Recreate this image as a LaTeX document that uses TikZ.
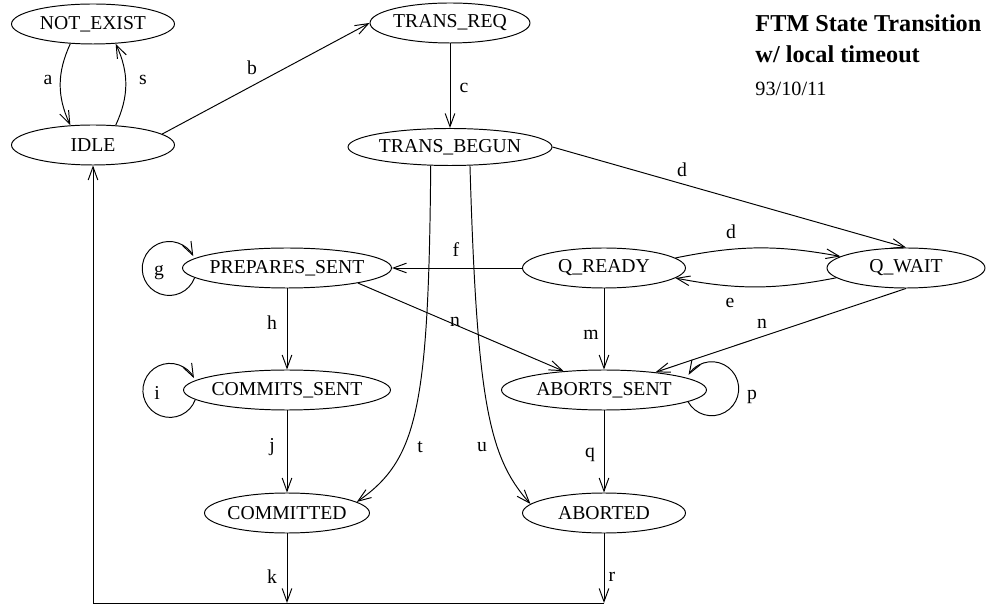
\documentclass[tikz,border=0pt]{standalone}
\usepackage{fontspec}
\setmainfont{Liberation Serif}
\usetikzlibrary{shapes, arrows.meta, calc}

\begin{document}
\begin{tikzpicture}[x=0.02cm, y=0.02cm, >={Straight Barb[length=7.5pt,width=5.5pt]},
    font=\fontsize{11.2}{13}\selectfont, line width=0.55pt,
    state/.style={draw, ellipse, inner xsep=-3pt, inner ysep=0pt,
      minimum width=3.26cm, minimum height=0.8cm},
    lbl/.style={inner sep=0pt}]
    \useasboundingbox (0,0) rectangle (986,605);

    % states
    \node[state] (ne) at (93,581) {NOT\_EXIST};
    \node[state] (idle) at (93,460) {IDLE};
    \node[state, minimum width=3.2cm] (treq) at (450,582) {TRANS\_REQ};
    \node[state, minimum width=4.08cm, minimum height=0.74cm] (tb) at (450,458) {TRANS\_BEGUN};
    \node[state, minimum width=4.18cm] (ps) at (287,337) {PREPARES\_SENT};
    \node[state] (qr) at (604,337) {Q\_READY};
    \node[state, minimum width=3.16cm] (qw) at (906,337) {Q\_WAIT};
    \node[state, minimum width=4.14cm] (cs) at (287,215) {COMMITS\_SENT};
    \node[state, minimum width=4.1cm] (as) at (604,215) {ABORTS\_SENT};
    \node[state, minimum width=3.3cm] (cm) at (287,92) {COMMITTED};
    \node[state] (ab) at (604,92) {ABORTED};

    % title
    \node[anchor=base west, inner sep=0pt, font=\fontsize{13.8}{16}\selectfont\bfseries] (title) at (755,573) {FTM State Transition};
    \node[anchor=base west, inner sep=0pt, font=\fontsize{13.8}{16}\selectfont\bfseries] (subtitle) at (755,542) {w/ local timeout};
    \node[anchor=base west, inner sep=0pt, font=\fontsize{11.5}{13}\selectfont] (date) at (755,509) {93/10/11};

    % transitions
    \draw[->] (ne.221) to[bend right=25] (idle.139);
    \draw[->] (idle.41) to[bend right=25] (ne.319);
    \draw[->] (idle.9) -- (treq.west);
    \draw[->] (treq) -- (tb);
    \draw[->] (tb.east) -- (qw.north);
    \draw[->] (tb.224) .. controls +(-2,-245) and +(60,42) .. (cm.9);
    \draw[->] (tb.317) .. controls +(7,-235) and +(-42,47) .. (ab.173);
    \draw[->] (qr) -- (ps);
    \draw[->] (qr.8) to[bend left=11] (qw.170);
    \draw[->] (qw.188) to[bend left=11] (qr.352);
    \draw[->] (ps.348) -- (as.155);
    \draw[->] (qr) -- (as);
    \draw[->] (qw.south) -- (as.19);
    \draw[->] (ps) -- (cs);
    \draw[->] (cs) -- (cm);
    \draw[->] (as) -- (ab);
    \draw[->] (ps.186) arc[start angle=-20, end angle=-333, radius=27];
    \draw[->] (cs.186) arc[start angle=-20, end angle=-333, radius=27];
    \draw[->] (as.352) arc[start angle=209, end angle=509, radius=27];

    % back to idle
    \coordinate (kb) at (287,2);
    \coordinate (rb) at (604,2);
    \coordinate (lb) at (93,2);
    \draw[->] (cm) -- (kb);
    \draw[->] (ab) -- (rb);
    \draw[->] (rb) -- (lb) -- (idle);

    % labels
    \node[lbl] (la) at (48,525) {a};
    \node[lbl] (ls) at (143,525) {s};
    \node[lbl] (lb-b) at (252,537) {b};
    \node[lbl] (lc) at (464,517) {c};
    \node[lbl] (ld1) at (682,435) {d};
    \node[lbl] (ld2) at (731,373) {d};
    \node[lbl] (le) at (730,302) {e};
    \node[lbl] (lf) at (456,355) {f};
    \node[lbl] (lg) at (159,332) {g};
    \node[lbl] (lh) at (272,282) {h};
    \node[lbl] (li) at (157,212) {i};
    \node[lbl] (lj) at (272,158) {j};
    \node[lbl] (lk) at (272,28) {k};
    \node[lbl] (lm) at (591,270) {m};
    \node[lbl] (ln1) at (455,283) {n};
    \node[lbl] (ln2) at (762,281) {n};
    \node[lbl] (lp) at (752,208) {p};
    \node[lbl] (lq) at (590,150) {q};
    \node[lbl] (lr) at (612,28) {r};
    \node[lbl] (lt) at (420,158) {t};
    \node[lbl] (lu) at (482,158) {u};
\end{tikzpicture}
\end{document}
